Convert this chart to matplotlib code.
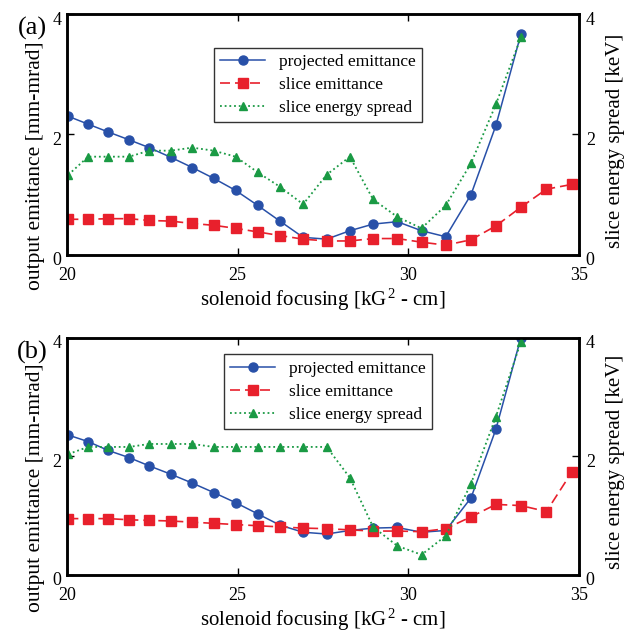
import matplotlib
matplotlib.use("Agg")
import matplotlib.pyplot as plt
import matplotlib.transforms as mtransforms

plt.rcParams["font.family"] = ["Liberation Serif", "DejaVu Serif"]
plt.rcParams["mathtext.fontset"] = "custom"
plt.rcParams["mathtext.rm"] = "Liberation Serif"
plt.rcParams["mathtext.it"] = "Liberation Serif:italic"

# solenoid focusing values (kG^2 - cm)
focus = [20.04, 20.62, 21.21, 21.82, 22.41, 23.04, 23.67, 24.30, 24.94, 25.59,
         26.24, 26.92, 27.61, 28.29, 28.97, 29.68, 30.39, 31.10, 31.84, 32.57,
         33.30, 34.05, 34.80]

# panel (a)
proj_a = [2.30, 2.17, 2.04, 1.91, 1.78, 1.62, 1.45, 1.27, 1.07, 0.82, 0.56,
          0.29, 0.26, 0.40, 0.51, 0.55, 0.40, 0.30, 1.00, 2.15, 3.66]
slice_a = [0.59, 0.59, 0.60, 0.60, 0.57, 0.56, 0.52, 0.49, 0.44, 0.38, 0.32,
           0.26, 0.23, 0.23, 0.27, 0.27, 0.21, 0.16, 0.25, 0.48, 0.79, 1.09, 1.17]
spread_a = [1.33, 1.63, 1.63, 1.63, 1.73, 1.73, 1.78, 1.73, 1.63, 1.37, 1.13,
            0.84, 1.33, 1.63, 0.92, 0.63, 0.44, 0.82, 1.52, 2.50, 3.61]

# panel (b)
proj_b = [2.36, 2.25, 2.10, 1.98, 1.84, 1.70, 1.55, 1.39, 1.22, 1.03, 0.84,
          0.72, 0.69, 0.75, 0.79, 0.80, 0.72, 0.75, 1.30, 2.46, 4.00]
slice_b = [0.95, 0.95, 0.95, 0.93, 0.92, 0.91, 0.89, 0.87, 0.85, 0.83, 0.81,
           0.79, 0.78, 0.76, 0.74, 0.74, 0.73, 0.78, 0.98, 1.19, 1.17, 1.07, 1.74]
spread_b = [2.04, 2.16, 2.16, 2.16, 2.21, 2.21, 2.21, 2.16, 2.16, 2.16, 2.16,
            2.16, 2.16, 1.64, 0.81, 0.49, 0.34, 0.66, 1.54, 2.67, 3.93]

panels = [
    ("(a)", proj_a, slice_a, spread_a, [0.1067, 0.600, 0.815, 0.378], (0.287, 0.55, 0.406, 0.29)),
    ("(b)", proj_b, slice_b, spread_b, [0.1067, 0.0975, 0.815, 0.372], (0.307, 0.616, 0.406, 0.304)),
]

BLUE = "#2850a8"
RED = "#e8202c"
GREEN = "#1a9a44"

fig = plt.figure(figsize=(6.28, 6.37), dpi=100)
down = mtransforms.ScaledTranslation(0, -4 / 100, fig.dpi_scale_trans)

for tag, proj, slc, spr, rect, legbox in panels:
    ax = fig.add_axes(rect)
    ax2 = ax.twinx()
    n = len(proj)
    l1, = ax.plot(focus[:n], proj, color=BLUE, lw=1.1, marker="o", ms=6.5,
                  label="projected emittance")
    l2, = ax.plot(focus[:len(slc)], slc, color=RED, lw=1.2, marker="s", ms=6.5,
                  dashes=(6, 3), label="slice emittance")
    l3, = ax2.plot(focus[:len(spr)], spr, color=GREEN, lw=1.3, marker="^", ms=6,
                   linestyle=(0, (1, 1.6)), label="slice energy spread")
    for a in (ax, ax2):
        a.set_xlim(20, 35)
        a.set_ylim(0, 4)
        a.set_yticks([0, 2, 4])
        for s in a.spines.values():
            s.set_linewidth(1.8)
    ax.set_xticks([20, 25, 30, 35])
    ax.tick_params(axis="x", direction="in", length=5, width=1, labelsize=13,
                   top=True, pad=9)
    ax.tick_params(axis="y", direction="in", length=5, width=1, labelsize=13, pad=4)
    ax2.tick_params(axis="y", direction="in", length=5, width=1, labelsize=13, pad=5)
    ax.set_ylabel("output emittance [mm-mrad]", fontsize=15.5)
    ax.yaxis.set_label_coords(-0.043, 0.37)
    ax2.set_ylabel("slice energy spread [keV]", fontsize=15)
    ax2.yaxis.set_label_coords(1.053, 0.475)
    ax.set_xlabel("solenoid focusing [kG$^{\\,2}$ - cm]", fontsize=15, labelpad=2)
    leg = ax2.legend(handles=[l1, l2, l3], loc="lower left", bbox_to_anchor=legbox,
                     mode="expand", fontsize=12.5, frameon=True, fancybox=False,
                     edgecolor="black", handlelength=2.6, borderaxespad=0,
                     labelspacing=0.4, borderpad=0.35)
    leg.get_frame().set_linewidth(1.0)
    for a in (ax, ax2):
        for t in a.yaxis.get_major_ticks():
            t.label1.set_transform(t.label1.get_transform() + down)
            t.label2.set_transform(t.label2.get_transform() + down)
    fig.text(0.052, rect[1] + rect[3] - 0.023, tag, fontsize=19, ha="center", va="center")

fig.savefig("out.png", dpi=100)
